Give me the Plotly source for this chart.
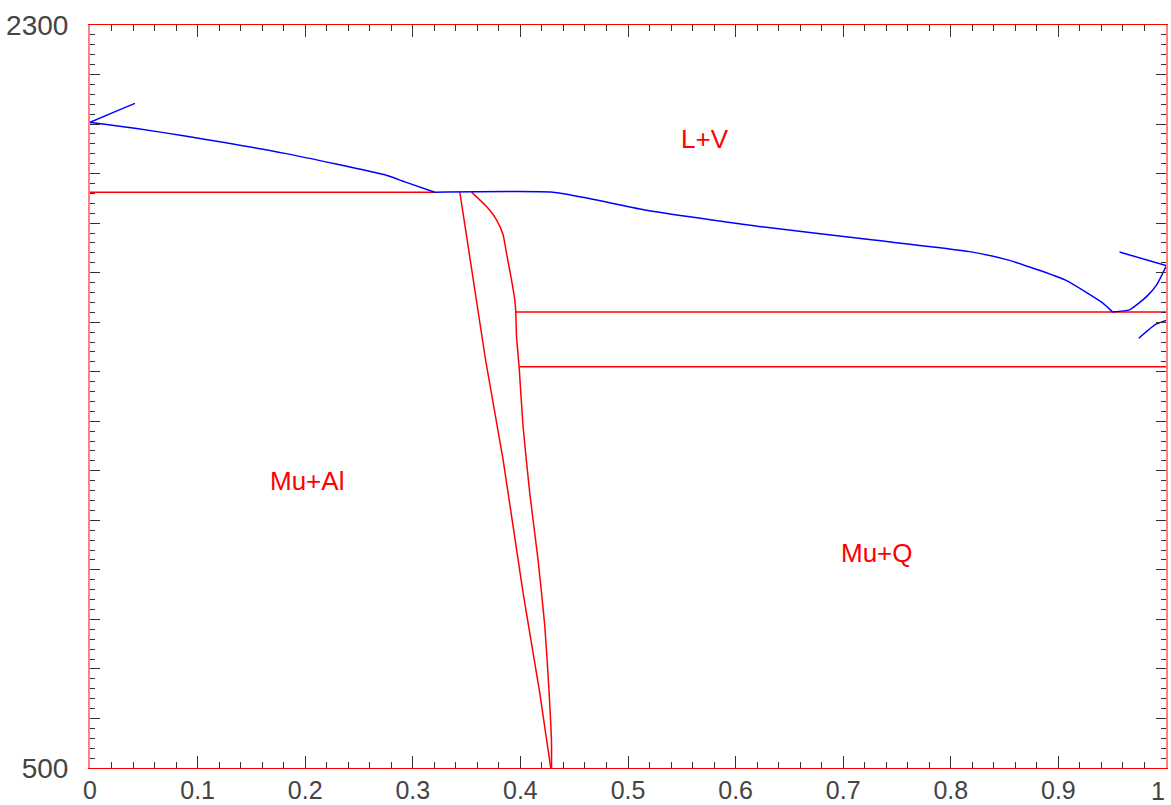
import plotly.graph_objects as go

# ---- data (composition x, temperature T) ----
liq_left_x = [0.0, 0.0418, 0.0883, 0.1811, 0.2740, 0.2926, 0.3205]
liq_left_y = [2064, 2050, 2031, 1989, 1937, 1920, 1895]

liq_mid_x = [0.3205, 0.4301, 0.4617, 0.5156, 0.6215, 0.7283, 0.8175, 0.8528, 0.9057, 0.941, 0.9503]
liq_mid_y = [1895, 1895, 1881, 1852, 1812, 1779, 1751, 1731, 1683, 1627, 1605]

liq_right_x = [0.9503, 0.966, 0.9819, 0.9912, 1.0]
liq_right_y = [1605, 1610, 1642, 1670, 1715]

blue_s1_x = [0.0, 0.025, 0.0418]
blue_s1_y = [2064, 2092, 2110]
blue_s2_x = [0.9568, 1.0]
blue_s2_y = [1750, 1717]
blue_s3_x = [0.9747, 0.99, 1.0]
blue_s3_y = [1541, 1574, 1584]

sol_left_x = [0.3437, 0.3676, 0.3839, 0.4025, 0.418, 0.4282]
sol_left_y = [1895, 1489, 1247, 924, 682, 500]

sol_right_x = [0.3546, 0.3685, 0.3778, 0.3839, 0.3871, 0.3917, 0.3948, 0.3957, 0.3964,
               0.3988, 0.4025, 0.4087, 0.4164, 0.4227, 0.4267, 0.4289, 0.4289]
sol_right_y = [1895, 1860, 1828, 1792, 1747, 1683, 1634, 1605, 1545,
               1472, 1327, 1166, 1004, 843, 682, 561, 500]

hline1_x = [0.0, 0.3205]; hline1_y = [1895, 1895]
hline2_x = [0.3957, 1.0]; hline2_y = [1605, 1605]
hline3_x = [0.3988, 1.0]; hline3_y = [1472, 1472]

labels = ["L+V", "Mu+Al", "Mu+Q"]
label_x = [0.5713, 0.2016, 0.7317]
label_y = [2025, 1195, 1021]

x_ticks = [0, 0.1, 0.2, 0.3, 0.4, 0.5, 0.6, 0.7, 0.8, 0.9, 1]
x_ticktext = ["0", "0.1", "0.2", "0.3", "0.4", "0.5", "0.6", "0.7", "0.8", "0.9", "1"]
y_ticks = [500 + 120 * i for i in range(16)]
y_ticktext = ["500"] + [""] * 14 + ["2300"]

RED = "#ff0000"
BLUE = "#0000ff"
TICKFONT_X = dict(family="Liberation Sans", size=25, color="#444")

fig = go.Figure()
for xs, ys, shp in [(hline1_x, hline1_y, "linear"), (hline2_x, hline2_y, "linear"),
                    (hline3_x, hline3_y, "linear"), (sol_left_x, sol_left_y, "spline"),
                    (sol_right_x, sol_right_y, "spline")]:
    fig.add_trace(go.Scatter(x=xs, y=ys, mode="lines",
                             line=dict(color=RED, width=1.5, shape=shp, smoothing=0.5),
                             showlegend=False, hoverinfo="skip"))
for xs, ys in [(liq_left_x, liq_left_y), (liq_mid_x, liq_mid_y), (liq_right_x, liq_right_y),
               (blue_s1_x, blue_s1_y), (blue_s2_x, blue_s2_y), (blue_s3_x, blue_s3_y)]:
    fig.add_trace(go.Scatter(x=xs, y=ys, mode="lines",
                             line=dict(color=BLUE, width=1.5, shape="spline", smoothing=0.5),
                             showlegend=False, hoverinfo="skip"))

for t, lx, ly in zip(labels, label_x, label_y):
    fig.add_annotation(x=lx, y=ly, text=t, showarrow=False,
                       font=dict(family="Liberation Sans", size=26, color=RED))

# last x tick label drawn right-aligned so it stays inside the page
shown_x_text = x_ticktext[:-1] + [""]
fig.add_annotation(x=x_ticks[-1], xref="x", y=0, yref="paper", text=x_ticktext[-1],
                   xanchor="right", yanchor="top", showarrow=False, yshift=-8,
                   font=TICKFONT_X, borderpad=0)

fig.update_layout(
    width=1171, height=805,
    margin=dict(l=90, r=5, t=25, b=37, autoexpand=False),
    paper_bgcolor="white", plot_bgcolor="white",
    showlegend=False,
)
fig.update_xaxes(
    range=[0, 1], tickvals=x_ticks, ticktext=shown_x_text,
    showgrid=False, zeroline=False, automargin=False,
    showline=True, linecolor=RED, linewidth=1, mirror="allticks",
    ticks="inside", ticklen=12, tickcolor="#333", tickwidth=1,
    minor=dict(dtick=0.02, tick0=0, ticks="inside", ticklen=6, tickcolor="#333", showgrid=False),
    tickfont=TICKFONT_X,
    ticklabelstandoff=0, ticklabeloverflow="allow",
)
fig.update_yaxes(
    range=[500, 2300], tickvals=y_ticks, ticktext=y_ticktext,
    showgrid=False, zeroline=False, automargin=False,
    showline=True, linecolor="#ff8080", linewidth=2, mirror="allticks",
    ticks="inside", ticklen=10, tickcolor="#333", tickwidth=1,
    minor=dict(dtick=24, tick0=500, ticks="inside", ticklen=5, tickcolor="#333", showgrid=False),
    tickfont=dict(family="Liberation Sans", size=28, color="#444"),
    ticklabelstandoff=14, ticklabeloverflow="allow",
)

fig.write_html("out.html")
